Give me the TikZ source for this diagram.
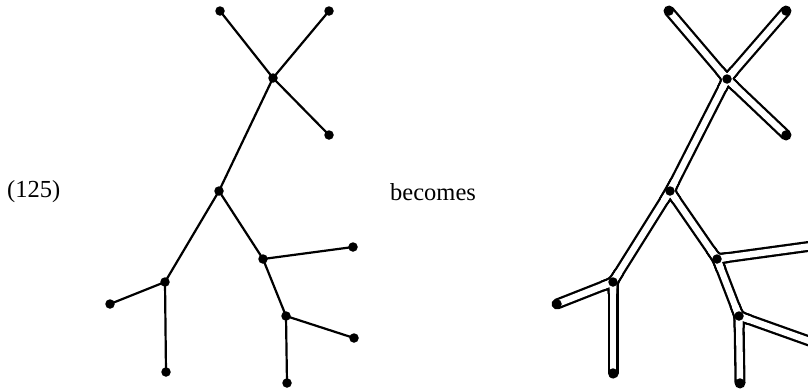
\documentclass[tikz,border=0pt]{standalone}
\usepackage{fontspec}
\setmainfont{Liberation Serif}
\usetikzlibrary{calc}
\newcommand\tubefillet[4]{\draw[#1] ($(#2)!11pt!(#3)$) .. controls (#2) .. ($(#2)!11pt!(#4)$);}
\newcommand\tubelayer[1]{%
  \draw[#1] (Rtl) -- (Rj) -- (Rm) -- (Rb) -- (Rb1);
  \draw[#1] (Rtr) -- (Rj) -- (Rr);
  \draw[#1] (Rm) -- (Ra) -- (Ral);
  \draw[#1] (Ra) -- (Rc) -- (Rc1);
  \draw[#1] (Rc) -- (Rc2);
  \draw[#1] (Rb) -- (Rb2);
  \tubefillet{#1}{Rj}{Rtl}{Rtr}
  \tubefillet{#1}{Rj}{Rtr}{Rr}
  \tubefillet{#1}{Rj}{Rr}{Rm}
  \tubefillet{#1}{Rj}{Rm}{Rtl}
  \tubefillet{#1}{Rm}{Rj}{Ra}
  \tubefillet{#1}{Rm}{Ra}{Rb}
  \tubefillet{#1}{Rm}{Rb}{Rj}
  \tubefillet{#1}{Ra}{Rm}{Ral}
  \tubefillet{#1}{Ra}{Ral}{Rc}
  \tubefillet{#1}{Ra}{Rc}{Rm}
  \tubefillet{#1}{Rb}{Rm}{Rb1}
  \tubefillet{#1}{Rb}{Rb1}{Rb2}
  \tubefillet{#1}{Rb}{Rb2}{Rm}
  \tubefillet{#1}{Rc}{Ra}{Rc1}
  \tubefillet{#1}{Rc}{Rc1}{Rc2}
  \tubefillet{#1}{Rc}{Rc2}{Ra}}
\begin{document}
\begin{tikzpicture}[x=1pt,y=-1pt,
  dot/.style={circle,fill=black,inner sep=0pt,minimum size=9.5pt},
  edge/.style={line width=2.2pt,line cap=round},
  tubeout/.style={line width=11pt,line cap=round,line join=round},
  tubein/.style={white,line width=6.4pt,line cap=round,line join=round},
  lbl/.style={font=\fontsize{24.5}{29}\selectfont,inner sep=0pt}]
\useasboundingbox (0,0) rectangle (808,389);
% left tree coordinates
\coordinate (Ltl) at (220,11);
\coordinate (Ltr) at (329,11);
\coordinate (Lj) at (273,78);
\coordinate (Lr) at (329,135);
\coordinate (Lm) at (219,191);
\coordinate (La) at (263,259);
\coordinate (Lal) at (353,247);
\coordinate (Lb) at (165,282);
\coordinate (Lb1) at (110,304);
\coordinate (Lb2) at (166,372);
\coordinate (Lc) at (286,316);
\coordinate (Lc1) at (354,338);
\coordinate (Lc2) at (287,383);
% right tree coordinates
\coordinate (Rtl) at (669,11);
\coordinate (Rtr) at (786,11);
\coordinate (Rj) at (727,79);
\coordinate (Rr) at (786,135);
\coordinate (Rm) at (670,191);
\coordinate (Ra) at (717,259);
\coordinate (Ral) at (812,246);
\coordinate (Rb) at (613,282);
\coordinate (Rb1) at (557,304);
\coordinate (Rb2) at (613,373);
\coordinate (Rc) at (739,316);
\coordinate (Rc1) at (812,342);
\coordinate (Rc2) at (740,383);
% left edges
\draw[edge] (Ltl) -- (Lj) -- (Lm) -- (Lb) -- (Lb1);
\draw[edge] (Ltr) -- (Lj) -- (Lr);
\draw[edge] (Lm) -- (La) -- (Lal);
\draw[edge] (La) -- (Lc) -- (Lc1);
\draw[edge] (Lc) -- (Lc2);
\draw[edge] (Lb) -- (Lb2);
% left dots
\foreach \n in {Ltl,Ltr,Lj,Lr,Lm,La,Lal,Lb,Lb1,Lb2,Lc,Lc1,Lc2}
  \node[dot] (d\n) at (\n) {};
% right tube
\tubelayer{tubeout}
\tubelayer{tubein}
\foreach \n in {Rtl,Rtr,Rj,Rr,Rm,Ra,Rb,Rb1,Rb2,Rc,Rc2}
  \node[dot] (d\n) at (\n) {};
% labels
\node[lbl,anchor=west] (num) at (7,192) {(125)};
\node[lbl,anchor=west] (becomes) at (390,192) {becomes};
\end{tikzpicture}
\end{document}
